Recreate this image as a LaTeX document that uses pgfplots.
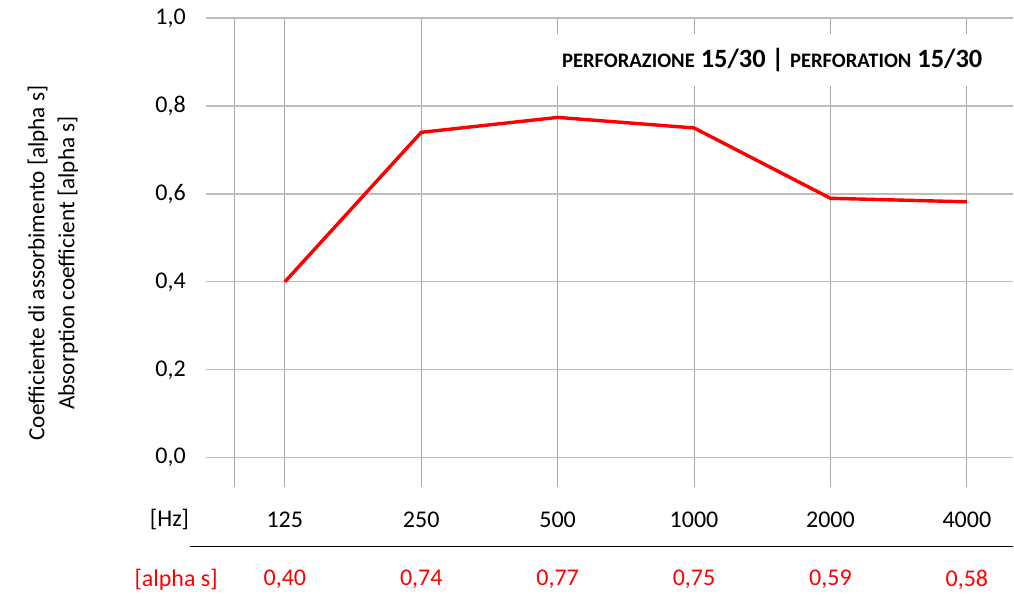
\documentclass[border=0pt]{standalone}
\usepackage{pgfplots}
\pgfplotsset{compat=1.18}
\usepackage{fontspec}
\setmainfont{Carlito}
\definecolor{gridgray}{HTML}{BDBDBD}
\definecolor{vgray}{HTML}{A8A8A8}
\tikzset{tl/.style={font=\fontsize{12}{14}\selectfont}}
\begin{document}
\begin{tikzpicture}
\begin{axis}[
  scale only axis,
  width=404pt, height=234.5pt,
  xmin=-0.58, xmax=5.34,
  ymin=-0.066, ymax=1.0,
  axis line style={draw=none},
  clip=false,
  xtick={-0.367,0,1,2,3,4,5},
  xticklabels={},
  ytick={0,0.2,0.4,0.6,0.8,1.0},
  yticklabels={},
  xmajorgrids, ymajorgrids,
  x grid style={vgray, line width=0.5pt},
  y grid style={gridgray, line width=0.6pt},
  major tick length=0pt,
]
\path (axis cs:-2.088,1.041) rectangle (axis cs:5.34,-0.309);
% y tick labels
\node[anchor=east, tl] at (axis cs:-0.675,0) {0,0};
\node[anchor=east, tl] at (axis cs:-0.675,0.2) {0,2};
\node[anchor=east, tl] at (axis cs:-0.675,0.4) {0,4};
\node[anchor=east, tl] at (axis cs:-0.675,0.6) {0,6};
\node[anchor=east, tl] at (axis cs:-0.675,0.8) {0,8};
\node[anchor=east, tl] at (axis cs:-0.675,1.0) {1,0};
% frequency row
\node[anchor=east, tl] at (axis cs:-0.65,-0.141) {[Hz]};
\node[tl] at (axis cs:0,-0.141) {125};
\node[tl] at (axis cs:1,-0.141) {250};
\node[tl] at (axis cs:2,-0.141) {500};
\node[tl] at (axis cs:3,-0.141) {1000};
\node[tl] at (axis cs:4,-0.141) {2000};
\node[tl] at (axis cs:5,-0.141) {4000};
\draw[black, line width=0.75pt] (axis cs:-0.696,-0.202) -- (axis cs:5.34,-0.202);
% values row
\node[anchor=east, red, tl] at (axis cs:-0.44,-0.277) {[alpha s]};
\node[red, tl] at (axis cs:0,-0.277) {0,40};
\node[red, tl] at (axis cs:1,-0.277) {0,74};
\node[red, tl] at (axis cs:2,-0.277) {0,77};
\node[red, tl] at (axis cs:3,-0.277) {0,75};
\node[red, tl] at (axis cs:4,-0.277) {0,59};
\node[red, tl] at (axis cs:5,-0.277) {0,58};
% y label
\node[rotate=90, align=center, font=\fontsize{11.6}{15}\selectfont] at (axis cs:-1.70,0.443)
  {Coefficiente di assorbimento [alpha s]\\Absorption coefficient [alpha s]};
% title
\node[anchor=east, fill=white, inner xsep=3pt, inner ysep=7pt, font=\bfseries\fontsize{13.2}{15}\selectfont] at (axis cs:5.16,0.905)
  {{\fontsize{10.3}{15}\selectfont PERFORAZIONE} 15/30 | {\fontsize{10.3}{15}\selectfont PERFORATION} 15/30};
\addplot[red, line width=1.7pt] coordinates {
  (0,0.40) (1,0.74) (2,0.774) (3,0.75) (4,0.59) (5,0.582)
};
\end{axis}
\end{tikzpicture}
\end{document}
